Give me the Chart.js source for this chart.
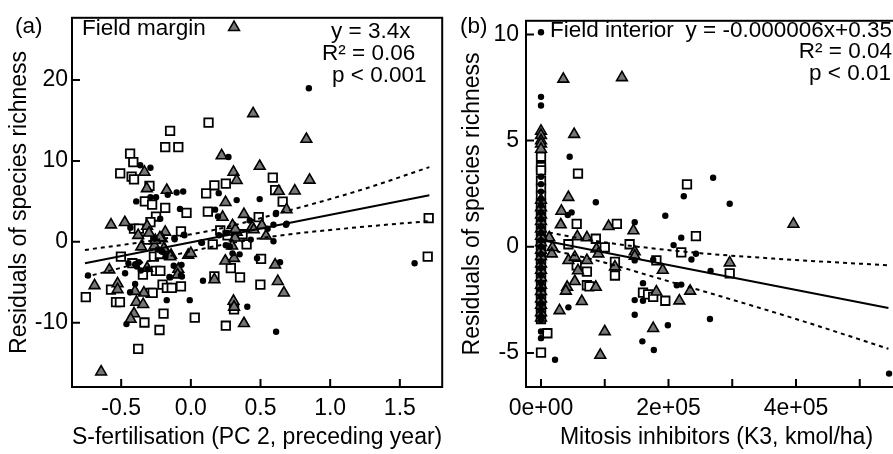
<!DOCTYPE html>
<html>
<head>
<meta charset="utf-8">
<script src="https://cdn.jsdelivr.net/npm/chart.js@4.4.1/dist/chart.umd.min.js"></script>
<style>
  html, body { margin: 0; padding: 0; background: #fff; overflow: hidden; width: 893px; height: 454px; }
  #chartA { position: absolute; left: 0; top: 0; }
  #chartB { position: absolute; left: 450px; top: 0; }
</style>
</head>
<body>
<canvas id="chartA" width="450" height="454"></canvas>
<canvas id="chartB" width="470" height="454"></canvas>
<script>
// ---- panel (a): field margin ----
const marginTriangles = [
  [0.31,26.5],[0.447,15.85],[0.829,12.68],[0.221,10.65],[0.306,8.62],[0.494,9.35],[0.329,7.6],[0.852,7.64],
  [-0.333,8.62],[-0.316,6.59],[-0.173,6.38],[0.631,6.26],[0.746,6.3],[0.249,4.88],[0.381,3.41],[0.687,3.98],
  [0.228,3.05],[-0.573,2.11],[-0.474,2.4],[-0.314,1.95],[-0.184,1.22],[-0.378,0.81],[-0.356,-0.61],[-0.26,-0.49],
  [-0.208,0.41],[-0.184,-1.01],[-0.142,-1.62],[-0.019,-1.62],[0.0,-1.42],[-0.09,-3.37],[-0.095,-4.06],[-0.585,-3.45],
  [-0.691,-5.4],[-0.526,-5.16],[-0.526,-5.89],[-0.314,-3.25],[-0.337,-6.3],[-0.401,-6.1],[-0.391,-7.44],[-0.342,-7.72],
  [-0.408,-8.86],[-0.432,-9.55],[-0.644,-16.06],[0.169,-4.67],[0.299,2.03],[0.329,1.22],[0.317,0.49],[0.247,-2.36],
  [0.31,-2.03],[0.44,1.83],[0.51,2.03],[0.539,0.73],[0.306,-7.32],[0.31,-8.05],[0.381,-10.08],[0.605,-2.84],
  [0.624,-4.88],[0.668,-6.3],[-0.194,-0.82],[-0.147,-1.83],[0.32,1.55],[0.296,-0.5],[0.451,1.5],[-0.255,0.2],
  [-0.222,0.52],[-0.3,1.1]
];
const marginSquares = [
  [0.127,14.72],[-0.149,13.7],[-0.184,11.71],[-0.09,11.71],[-0.436,10.89],[-0.413,9.84],[-0.507,8.46],[-0.425,8.05],
  [-0.408,7.72],[-0.297,6.91],[-0.33,5.0],[-0.278,4.59],[-0.184,4.19],[-0.031,3.58],[0.11,5.98],[0.169,6.99],
  [0.251,7.2],[0.122,3.74],[0.588,7.93],[0.605,6.38],[0.659,4.96],[0.487,3.05],[-0.25,3.13],[-0.29,2.44],
  [-0.408,1.63],[-0.373,1.63],[1.707,2.93],[1.7,-1.83],[-0.071,1.3],[-0.502,-1.83],[-0.42,-2.64],[-0.344,-4.06],
  [-0.25,-3.58],[-0.219,-3.58],[-0.071,-5.49],[-0.203,-5.28],[-0.172,-5.69],[-0.137,-5.69],[-0.573,-5.89],[-0.754,-6.83],
  [-0.537,-7.44],[-0.509,-7.44],[-0.29,-6.3],[-0.274,-6.3],[-0.333,-9.96],[-0.196,-8.86],[-0.225,-10.89],[-0.378,-13.21],
  [0.028,-9.35],[0.251,-10.36],[0.31,-8.33],[0.169,-4.27],[0.287,-3.25],[0.353,-4.39],[0.504,-2.11],[0.499,-5.28],
  [0.157,-0.32],[0.211,1.42],[0.263,0.81],[0.4,-0.32],[-0.316,0.28],[-0.265,-1.83],[-0.222,-1.5],[0.371,0.94]
];
const marginCircles = [
  [0.847,18.98],[0.27,10.49],[-0.363,9.47],[-0.29,9.15],[-0.392,5.0],[-0.25,5.52],[-0.29,5.52],[-0.166,5.81],
  [-0.102,6.1],[-0.055,6.22],[-0.078,4.07],[0.2,6.02],[0.329,5.16],[0.494,5.28],[0.612,3.58],[-0.22,2.85],
  [0.174,3.98],[0.423,2.64],[0.687,2.24],[0.593,2.11],[-0.05,0.9],[-0.118,0.49],[0.075,-0.08],[-0.738,-4.15],
  [-0.448,-2.64],[-0.373,-2.52],[-0.4,-5.2],[-0.436,-6.22],[-0.462,-10.16],[-0.149,-4.39],[-0.071,-4.15],[-0.173,-7.2],
  [-0.008,-7.2],[0.087,-4.8],[0.251,-0.41],[0.299,-1.42],[0.35,-1.54],[0.475,-2.03],[0.405,-8.01],[0.612,-11.1],
  [0.64,-2.52],[0.593,0.08],[0.683,2.11],[1.606,-2.64],[-0.067,-2.84],[-0.434,1.74],[-0.26,0.4],[-0.116,0.33],
  [-0.046,0.82],[-0.236,-0.94],[-0.205,-1.22],[-0.182,-1.83],[-0.399,-2.77],[-0.472,-3.87],[-0.359,-3.54],[-0.311,-3.38],
  [-0.387,-3.05],[-0.154,-4.35],[-0.064,-4.27],[-0.123,-2.96],[0.08,-0.12],[0.258,1.1],[0.202,0.82],[0.28,-0.6],
  [0.43,0.28],[0.551,1.62],[0.61,3.45],[0.195,3.13]
];
const marginFitX = [-0.76, 1.712];
const marginFitY = [-2.65, 5.77];
const marginBandX = [-0.76, -0.3, 0.2, 0.6, 1.2, 1.712];
const marginUpper = [-1.0, 0.1, 1.6, 3.4, 6.3, 9.23];
const marginLower = [-4.35, -2.35, -0.45, 0.7, 1.8, 2.56];
const xTicksA = [-0.5, 0, 0.5, 1, 1.5];
const xTickLabelsA = ['-0.5', '0.0', '0.5', '1.0', '1.5'];
const yTicksA = [-10, 0, 10, 20];
const yTickLabelsA = ['-10', '0', '10', '20'];

// ---- panel (b): field interior ----
const interiorCircles = [
  [0,10.1],[0,7.06],[0,6.65],[45000,4.24],[86000,2.1],[224000,2.38],[270000,3.25],[296000,2.03],
  [195000,1.46],[147000,1.16],[42000,1.5],[48000,1.62],[220000,0.43],[208000,0.08],[147000,-0.64],[243000,-0.33],
  [236000,-0.6],[176000,-0.61],[266000,-1.14],[43000,-2.85],[160000,-1.71],[147000,-2.51],[160000,-2.54],[213000,-1.81],
  [220000,-1.78],[147000,-3.2],[199000,-3.69],[159000,-4.45],[177000,-4.86],[22000,-5.32],[265000,-3.4],[546000,-5.97],
  [0,3.3],[0,2.95],[0,2.6],[0,2.25],[0,1.95],[0,1.6],[0,1.3],[0,0.95],[0,0.65],[0,0.3],[0,0.0],[0,-0.35],
  [0,-0.7],[0,-1.0],[0,-1.35],[0,-1.7],[0,-2.0],[0,-2.35],[0,-2.7],[0,-3.0],[0,-3.3],[0,-3.45],[0,-3.99],[0,-4.3]
];
const interiorSquares = [
  [58000,3.45],[229000,2.94],[119000,1.08],[56000,1.08],[43000,0.12],[86000,0.38],[100000,-0.03],[139000,0.12],
  [243000,0.5],[220000,-0.26],[56000,-0.87],[72000,-1.17],[116000,-0.71],[116000,-1.35],[181000,-0.64],[72000,-1.81],
  [76000,-1.86],[160000,-2.16],[168000,-2.24],[176000,-2.36],[195000,-2.54],[296000,-1.25],[10000,-4.07],[0,-4.98],
  [0,4.24],[0,3.75],[0,3.6],[0,3.1],[0,2.75],[0,2.4],[0,2.05],[0,1.7],[0,1.4],[0,1.05],[0,0.75],[0,0.4],
  [0,0.1],[0,-0.2],[0,-0.55],[0,-0.85],[0,-1.2],[0,-1.5],[0,-1.85],[0,-2.2],[0,-2.5],[0,-2.85],[0,-3.15],[0,-3.4]
];
const interiorTriangles = [
  [35000,7.9],[127000,7.97],[52000,5.3],[43000,2.33],[32000,1.68],[31000,1.04],[106000,0.96],[145000,0.76],
  [396000,1.07],[13000,0.43],[18000,-0.03],[17000,-0.33],[57000,0.48],[72000,0.43],[87000,-0.1],[90000,-0.33],
  [147000,-0.23],[147000,-0.44],[43000,-0.64],[53000,-0.48],[72000,-0.64],[58000,-1.12],[116000,-0.94],[191000,-1.1],
  [53000,-1.63],[41000,-1.9],[39000,-2.08],[86000,-1.9],[64000,-2.57],[29000,-3.0],[181000,-2.12],[217000,-2.54],
  [234000,-2.08],[176000,-3.84],[100000,-3.99],[93000,-5.1],[296000,-0.75],
  [0,5.45],[0,5.25],[0,5.0],[0,4.85],[0,4.6],[0,2.2],[0,1.85],[0,1.5],[0,1.2],[0,0.85],[0,0.5],
  [0,0.2],[0,-0.15],[0,-0.45],[0,-0.8],[0,-1.1],[0,-1.45],[0,-1.8],[0,-2.1],[0,-2.45],[0,-2.75],[0,-3.1],[0,-3.35]
];
const interiorFitX = [0, 545000];
const interiorFitY = [0.32, -2.88];
const interiorUpperX = [0, 70000, 140000, 250000, 400000, 545000];
const interiorUpper = [0.75, 0.35, 0.05, -0.3, -0.62, -0.87];
const interiorLowerX = [0, 87000, 192000, 250000, 400000, 545000];
const interiorLower = [-0.05, -0.64, -1.55, -2.05, -3.4, -4.8];
const xTicksB = [0, 100000, 200000, 300000, 400000, 500000];
const xTickLabelsB = ['0e+00', '', '2e+05', '', '4e+05', ''];
const yTicksB = [-5, 0, 5, 10];
const yTickLabelsB = ['-5', '0', '5', '10'];

const FONT = '"Liberation Sans", Arial, sans-serif';
Chart.defaults.font.family = FONT;
Chart.defaults.font.size = 23;
Chart.defaults.color = '#000';

const toPts = arr => arr.map(([x, y]) => ({ x, y }));
const zipPts = (xs, ys) => xs.map((x, i) => ({ x, y: ys[i] }));

const circleSet = d => ({ data: toPts(d), pointStyle: 'circle', pointRadius: 3.2,
  pointBackgroundColor: '#000', pointBorderWidth: 0, order: 1 });
const triangleSet = d => ({ data: toPts(d), pointStyle: 'triangle', pointRadius: 6.2,
  pointBackgroundColor: '#767676', pointBorderColor: '#000', pointBorderWidth: 1.6, order: 2 });
const squareSet = d => ({ data: toPts(d), pointStyle: 'rect', pointRadius: 6,
  pointBackgroundColor: '#fff', pointBorderColor: '#000', pointBorderWidth: 1.8, order: 3 });
const lineSet = (pts, dash) => ({ data: pts, showLine: true, pointRadius: 0, borderColor: '#000',
  borderWidth: 2, borderDash: dash, cubicInterpolationMode: 'monotone', fill: false, order: 0 });

// frame, inward tick marks and text notes
const boxAndTicks = {
  id: 'boxAndTicks',
  afterDatasetsDraw(chart, args, opts) {
    const { ctx, chartArea: a } = chart;
    const xs = chart.scales.x, ys = chart.scales.y;
    ctx.save();
    ctx.strokeStyle = '#000';
    ctx.lineWidth = 2;
    ctx.strokeRect(a.left, a.top, a.right - a.left, a.bottom - a.top);
    ctx.beginPath();
    xs.ticks.forEach(t => {
      const p = xs.getPixelForValue(t.value);
      ctx.moveTo(p, a.bottom); ctx.lineTo(p, a.bottom - 8);
    });
    ys.ticks.forEach(t => {
      const p = ys.getPixelForValue(t.value);
      ctx.moveTo(a.left, p); ctx.lineTo(a.left + 8, p);
    });
    ctx.stroke();
    ctx.fillStyle = '#000';
    ctx.font = '22.5px ' + FONT;
    ctx.textBaseline = 'alphabetic';
    (opts.notes || []).forEach(n => {
      ctx.textAlign = n.align || 'left';
      ctx.fillText(n.text, n.x, n.y);
    });
    ctx.restore();
  }
};

function makePanel(id, p) {
  return new Chart(document.getElementById(id), {
    type: 'scatter',
    data: { datasets: p.datasets },
    options: {
      responsive: false,
      animation: false,
      events: [],
      layout: { padding: p.padding },
      plugins: { legend: { display: false }, tooltip: { enabled: false }, boxAndTicks: { notes: p.notes } },
      scales: {
        x: {
          type: 'linear', min: p.xMin, max: p.xMax,
          afterBuildTicks: s => { s.ticks = p.xTicks.map(v => ({ value: v })); },
          afterFit: s => { s.height = 67; },
          grid: { display: false, drawTicks: false },
          border: { display: false },
          ticks: { padding: 8, autoSkip: false, maxRotation: 0, callback: (v, i) => p.xLabels[i] },
          title: { display: true, text: p.xTitle, padding: { top: 0, bottom: 3 } }
        },
        y: {
          type: 'linear', min: p.yMin, max: p.yMax,
          afterBuildTicks: s => { s.ticks = p.yTicks.map(v => ({ value: v })); },
          afterFit: s => { s.width = p.yWidth; },
          grid: { display: false, drawTicks: false },
          border: { display: false },
          ticks: { padding: p.yPad, autoSkip: false, callback: (v, i) => p.yLabels[i] },
          title: { display: true, text: 'Residuals of species richness', padding: { top: p.yTitlePad, bottom: 0 } }
        }
      }
    },
    plugins: [boxAndTicks]
  });
}

makePanel('chartA', {
  datasets: [
    lineSet(zipPts(marginFitX, marginFitY), []),
    lineSet(zipPts(marginBandX, marginUpper), [4, 4]),
    lineSet(zipPts(marginBandX, marginLower), [4, 4]),
    circleSet(marginCircles),
    triangleSet(marginTriangles),
    squareSet(marginSquares)
  ],
  padding: { top: 13, right: 2, left: 0, bottom: 0 },
  xMin: -0.853, xMax: 1.804, xTicks: xTicksA, xLabels: xTickLabelsA,
  yMin: -17.93, yMax: 27.68, yTicks: yTicksA, yLabels: yTickLabelsA,
  yWidth: 72, yPad: 4, yTitlePad: 6,
  xTitle: 'S-fertilisation (PC 2, preceding year)',
  notes: [
    { text: '(a)', x: 15, y: 33 },
    { text: 'Field margin', x: 82, y: 35 },
    { text: 'y = 3.4x', x: 331, y: 38 },
    { text: 'R\u00B2 = 0.06', x: 322, y: 60 },
    { text: 'p < 0.001', x: 332, y: 82 }
  ]
});

makePanel('chartB', {
  datasets: [
    lineSet(zipPts(interiorFitX, interiorFitY), []),
    lineSet(zipPts(interiorUpperX, interiorUpper), [4, 4]),
    lineSet(zipPts(interiorLowerX, interiorLower), [4, 4]),
    circleSet(interiorCircles),
    triangleSet(interiorTriangles),
    squareSet(interiorSquares)
  ],
  padding: { top: 10, right: 13, left: 0, bottom: 0 },
  xMin: -23529, xMax: 574118, xTicks: xTicksB, xLabels: xTickLabelsB,
  yMin: -6.6, yMax: 10.64, yTicks: yTicksB, yLabels: yTickLabelsB,
  yWidth: 76, yPad: 7, yTitlePad: 9,
  xTitle: 'Mitosis inhibitors (K3, kmol/ha)',
  notes: [
    { text: '(b)', x: 10, y: 33 },
    { text: 'Field interior', x: 100, y: 37 },
    { text: 'y = -0.000006x+0.35', x: 442, y: 37, align: 'right' },
    { text: 'R\u00B2 = 0.04', x: 442, y: 58, align: 'right' },
    { text: 'p < 0.01', x: 441, y: 80, align: 'right' }
  ]
});
</script>
</body>
</html>
